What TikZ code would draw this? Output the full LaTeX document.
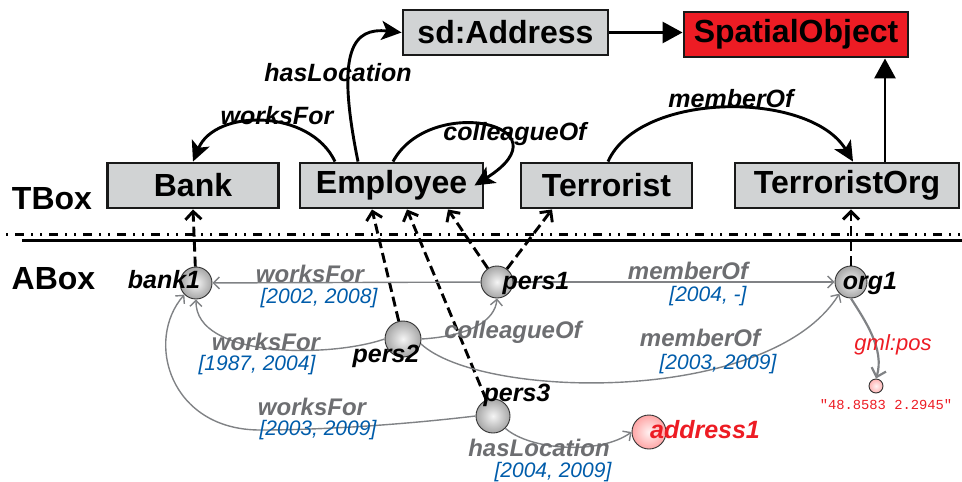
\documentclass[tikz,border=0pt]{standalone}
\usepackage{fontspec}
\setmainfont{Liberation Sans}
\newfontfamily\litfont{Liberation Mono}
\usetikzlibrary{arrows.meta}
\definecolor{boxgray}{RGB}{209,211,212}
\definecolor{spred}{RGB}{237,28,36}
\definecolor{relgray}{RGB}{109,110,113}
\definecolor{linegray}{RGB}{128,130,133}
\definecolor{dateblue}{RGB}{0,92,170}
\begin{document}
\begin{tikzpicture}[x=1pt,y=1pt,
    cls/.style={draw=black!90,line width=2.9pt,fill=boxgray,minimum height=45pt,inner sep=0pt,
      font=\fontsize{32}{36}\selectfont\bfseries},
    inst/.style={circle,draw=black!80,line width=0.9pt,shading=radial,inner color=gray!8,
      outer color=gray!70,minimum size=32pt,inner sep=0pt},
    iname/.style={anchor=base,inner sep=0pt,font=\fontsize{25}{28}\selectfont\bfseries\itshape},
    trel/.style={anchor=base,inner sep=0pt,font=\fontsize{25}{28}\selectfont\bfseries\itshape},
    arel/.style={anchor=base,inner sep=0pt,text=relgray,font=\fontsize{24}{28}\selectfont\bfseries\itshape},
    when/.style={anchor=base,inner sep=0pt,text=dateblue,font=\fontsize{21}{24}\selectfont\itshape},
    tedge/.style={line width=2.9pt,-{Stealth[length=20pt,width=19pt,inset=5pt]}},
    isa/.style={line width=2.9pt,-{Triangle[length=20pt,width=21pt]}},
    typeof/.style={line width=2.9pt,dash pattern=on 10pt off 5pt,-{Straight Barb[length=8pt,width=16pt]}},
    aedge/.style={draw=linegray,line width=1.4pt,-{Straight Barb[length=6pt,width=12pt]}}
  ]
  \useasboundingbox (0,0) rectangle (962,-482);
  % separator between the two boxes
  \draw[line width=3pt] (22,-240) -- (962,-240);
  \draw[line width=3pt,dash pattern=on 2pt off 7pt on 9pt off 7pt on 2pt off 7pt] (6,-234) -- (962,-234);
  \node[font=\fontsize{32}{36}\selectfont\bfseries] (tboxlbl) at (52,-199) {TBox};
  \node[font=\fontsize{32}{36}\selectfont\bfseries] (aboxlbl) at (53.5,-279) {ABox};
  % TBox classes
  \node[cls,minimum width=171pt] (Bank) at (193,-185.5) {Bank};
  \node[cls,minimum width=183pt] (Employee) at (391.5,-185.5) {Employee};
  \node[cls,minimum width=171pt] (Terrorist) at (606.5,-185.5) {Terrorist};
  \node[cls,minimum width=224pt] (TerroristOrg) at (847,-185.5) {TerroristOrg};
  \node[cls,minimum width=205pt] (sdAddress) at (505.5,-32.5) {sd:Address};
  \node[cls,minimum width=224pt,fill=spred] (SpatialObject) at (796,-34.5) {SpatialObject};
  % ABox individuals
  \node[inst] (bank1) at (196,-283) {};
  \node[inst] (pers1) at (497,-282) {};
  \node[inst] (org1) at (851,-282) {};
  \node[inst,minimum size=36pt] (pers2) at (403,-339) {};
  \node[inst,minimum size=34pt] (pers3) at (493,-416) {};
  \node[inst,minimum size=34pt,inner color=red!5,outer color=red!35] (addr1) at (649,-432) {};
  \node[inst,minimum size=14pt,inner color=red!5,outer color=red!30] (lit) at (876,-386) {};
  % TBox relations
  \draw[tedge] ([xshift=-56.5]Employee.north) .. controls +(-25,53) and +(22,53) .. (Bank.north);
  \draw[tedge] ([xshift=-33.5]Employee.north) .. controls +(-23,113) and +(-48,5) .. (sdAddress.west);
  \draw[tedge] ([xshift=1.5]Employee.north) .. controls +(37,68) and +(97,61) .. ([xshift=-10]Employee.east);
  \draw[tedge] ([xshift=1.5]Terrorist.north) .. controls +(32,71) and +(-43,71) .. ([xshift=6]TerroristOrg.north);
  \draw[isa] (sdAddress.east) -- (sdAddress.east -| SpatialObject.west);
  \draw[isa] ([xshift=38]TerroristOrg.north) -- ([xshift=38]TerroristOrg.north |- SpatialObject.south);
  % instance of
  \draw[typeof] (bank1) -- (Bank.south);
  \draw[typeof] (pers1) -- ([xshift=56.5]Employee.south);
  \draw[typeof] (pers1) -- ([xshift=-54.5]Terrorist.south);
  \draw[typeof] (pers2) -- ([xshift=-19.5]Employee.south);
  \draw[typeof] (pers3) -- ([xshift=15.5]Employee.south);
  \draw[typeof] (org1) -- ([xshift=4]TerroristOrg.south);
  % ABox relations
  \draw[aedge] (pers1) -- (bank1);
  \draw[aedge] (pers1) -- (org1);
  \draw[aedge] (pers2.west) .. controls +(-55,-19) and +(-1,-59) .. (bank1.south);
  \draw[aedge] (pers2.east) .. controls +(49,3) and +(-2,-22) .. (pers1.south);
  \draw[aedge] (pers2.-15) .. controls +(60,-56) and +(-70,-112) .. (org1.south west);
  \draw[aedge] (pers3.west) .. controls +(-76,-9) and +(60,0) .. (260,-430)
    .. controls +(-90,0) and +(-40,-46) .. (bank1.south west);
  \draw[aedge] (pers3.south east) .. controls +(25,-22) and +(-32,-23) .. (addr1.west);
  \draw[aedge,line width=2.2pt,-{Straight Barb[length=8pt,width=15pt]}] (org1.south) .. controls +(14,-22) and +(9,29) .. (lit.north);
  % names
  \node[iname] (bank1lbl) at (164,-288) {bank1};
  \node[iname] (pers1lbl) at (536,-289) {pers1};
  \node[iname] (org1lbl) at (870,-289) {org1};
  \node[iname] (pers2lbl) at (386,-362) {pers2};
  \node[iname] (pers3lbl) at (517,-401) {pers3};
  \node[iname,text=spred] (addr1lbl) at (705,-438) {address1};
  \node[anchor=base,inner sep=0pt,text=spred,font=\litfont\fontsize{13.8}{16}\selectfont] (litlbl) at (886,-409) {"48.8583 2.2945"};
  % labels
  \node[trel] (wfT) at (277,-124) {worksFor};
  \node[trel] (hlT) at (338,-81) {hasLocation};
  \node[trel] (coT) at (515,-140) {colleagueOf};
  \node[trel] (moT) at (731,-107) {memberOf};
  \node[arel] (wfA) at (310,-282) {worksFor};
  \node[when] (wfAt) at (319,-303) {[2002, 2008]};
  \node[arel] (moA) at (688,-279) {memberOf};
  \node[when] (moAt) at (708,-301) {[2004, -]};
  \node[arel] (wfB) at (266,-350) {worksFor};
  \node[when] (wfBt) at (257,-370) {[1987, 2004]};
  \node[arel] (coA) at (513,-338) {colleagueOf};
  \node[arel] (moB) at (700,-346) {memberOf};
  \node[when] (moBt) at (718,-369) {[2003, 2009]};
  \node[arel] (wfC) at (312,-415) {worksFor};
  \node[when] (wfCt) at (318,-435) {[2003, 2009]};
  \node[arel] (hlA) at (539,-456) {hasLocation};
  \node[when] (hlAt) at (553,-477) {[2004, 2009]};
  \node[anchor=base,inner sep=0pt,text=spred,font=\fontsize{22}{26}\selectfont\itshape] (gmlpos) at (893,-350) {gml:pos};
\end{tikzpicture}
\end{document}
